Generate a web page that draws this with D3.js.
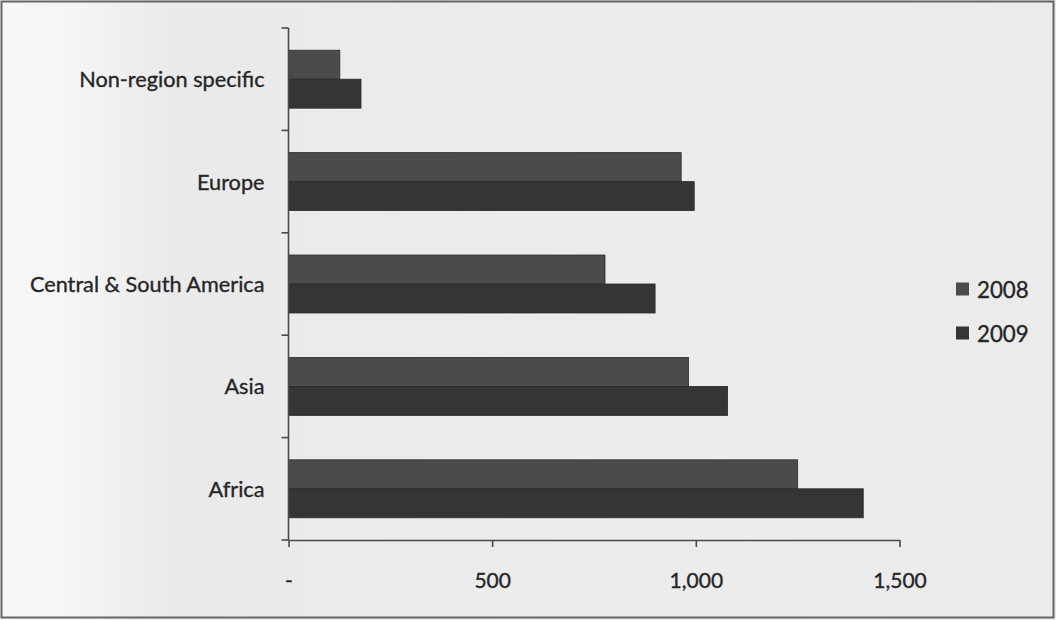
<!DOCTYPE html>
<html>
<head>
<meta charset="utf-8">
<script src="https://cdn.jsdelivr.net/npm/d3@7"></script>
<style>
  html, body { margin: 0; padding: 0; background: #ebebeb; }
  svg { display: block; }
  text { font-family: Lato, "Noto Sans", sans-serif; fill: #252525; stroke: #2a2a2a; stroke-width: 0.35px; }
</style>
</head>
<body>
<svg id="chart" width="1056" height="620"></svg>
<script>
// Regions, top to bottom
const regions = ["Non-region specific", "Europe", "Central & South America", "Asia", "Africa"];
// Series names and values per region
const seriesNames = ["2008", "2009"];
const values2008 = [126, 964, 777, 982, 1250];
const values2009 = [178, 996, 900, 1078, 1411];
// Value axis ticks and labels
const tickValues = [0, 500, 1000, 1500];
const tickLabels = ["-", "500", "1,000", "1,500"];

const seriesColors = ["#4b4b4b", "#353535"];

const W = 1056, H = 620;
const plot = { left: 288.5, right: 899.5, top: 28, bottom: 540 };

const svg = d3.select("#chart");

// Paper background, a touch lighter towards the left edge
const defs = svg.append("defs");
const grad = defs.append("linearGradient").attr("id", "paper")
  .attr("x1", "0").attr("x2", "1").attr("y1", "0").attr("y2", "0");
[["0%", "#f7f7f7"], ["7%", "#f5f5f5"], ["16%", "#eaeaea"], ["60%", "#ececec"], ["100%", "#ebebeb"]]
  .forEach(([o, c]) => grad.append("stop").attr("offset", o).attr("stop-color", c));

svg.append("rect").attr("x", 0).attr("y", 0).attr("width", W).attr("height", H)
  .attr("fill", "url(#paper)");

// Outer frame
svg.append("rect").attr("x", 1.5).attr("y", 1.5).attr("width", W - 4).attr("height", H - 4)
  .attr("fill", "none").attr("stroke", "#666").attr("stroke-width", 2);

const x = d3.scaleLinear().domain([0, 1500]).range([plot.left, plot.right]);
const y = d3.scaleBand().domain(regions).range([plot.top, plot.bottom])
  .paddingInner(0.434).paddingOuter(0.217);
const ySeries = d3.scaleBand().domain(seriesNames).range([0, y.bandwidth()]);

const rows = regions.map((r, i) => ({ region: r, vals: [values2008[i], values2009[i]] }));

// Bars
const groups = svg.append("g").selectAll("g").data(rows).join("g")
  .attr("transform", d => `translate(0,${y(d.region)})`);
groups.selectAll("rect")
  .data(d => d.vals.map((v, k) => ({ series: seriesNames[k], value: v, k })))
  .join("rect")
  .attr("x", x(0))
  .attr("y", d => ySeries(d.series))
  .attr("width", d => x(d.value) - x(0))
  .attr("height", ySeries.bandwidth())
  .attr("fill", d => seriesColors[d.k])
  .attr("stroke", "#2a2a2a")
  .attr("stroke-width", 0.8);

// Value axis (bottom)
const xAxis = d3.axisBottom(x)
  .tickValues(tickValues)
  .tickFormat((d, i) => tickLabels[i])
  .tickSizeInner(7).tickSizeOuter(0).tickPadding(26);
const gx = svg.append("g").attr("transform", `translate(0,${plot.bottom})`).call(xAxis);
gx.selectAll("path, line").attr("stroke", "#4a4a4a").attr("stroke-width", 1.6);
gx.selectAll("text").style("font-size", "21px").attr("fill", "#252525")
  .style("font-family", "Lato, 'Noto Sans', sans-serif");

// Category axis (left): ticks sit between categories
const gy = svg.append("g");
gy.append("line")
  .attr("x1", x(0)).attr("x2", x(0))
  .attr("y1", plot.top).attr("y2", plot.bottom)
  .attr("stroke", "#4a4a4a").attr("stroke-width", 1.6);
const halfGap = (y.step() - y.bandwidth()) / 2;
const boundaries = regions.map(r => y(r) - halfGap).concat([plot.bottom]);
gy.selectAll("line.tick").data(boundaries).join("line").attr("class", "tick")
  .attr("x1", x(0) - 7).attr("x2", x(0))
  .attr("y1", d => d).attr("y2", d => d)
  .attr("stroke", "#4a4a4a").attr("stroke-width", 1.6);
gy.selectAll("text").data(regions).join("text")
  .attr("x", x(0) - 24)
  .attr("y", d => y(d) + y.bandwidth() / 2)
  .attr("text-anchor", "end")
  .attr("dominant-baseline", "central")
  .style("font-size", "21.7px")
  .text(d => d);

// Legend
const legend = svg.append("g").attr("transform", "translate(956,289)");
const li = legend.selectAll("g").data(seriesNames).join("g")
  .attr("transform", (d, i) => `translate(0,${i * 44})`);
li.append("rect").attr("x", 0).attr("y", -6.5).attr("width", 13).attr("height", 13)
  .attr("fill", (d, i) => seriesColors[i]);
li.append("text").attr("x", 21).attr("y", 0)
  .attr("dominant-baseline", "central")
  .style("font-size", "22.3px")
  .text(d => d);
</script>
</body>
</html>
